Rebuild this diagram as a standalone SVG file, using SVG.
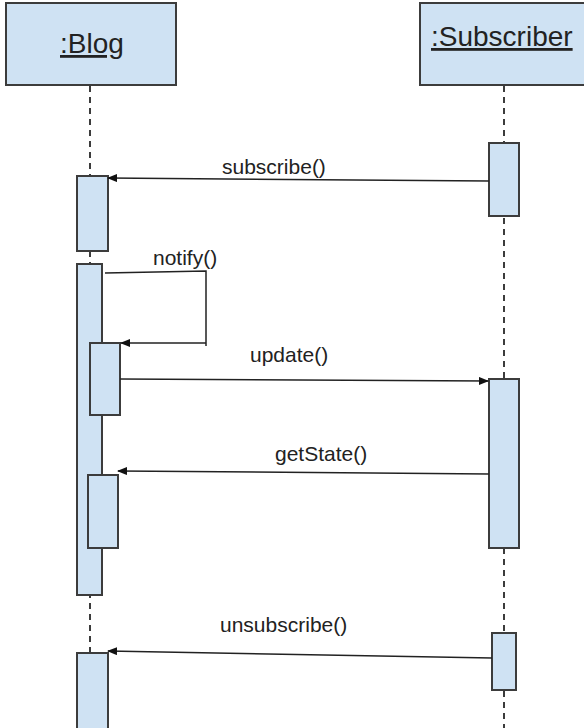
<svg xmlns="http://www.w3.org/2000/svg" width="584" height="728" viewBox="0 0 584 728">
<style>
.box{fill:#cfe2f3;stroke:#3c3c3c;stroke-width:2}
.act{fill:#cfe2f3;stroke:#3c3c3c;stroke-width:2}
.life{stroke:#3c3c3c;stroke-width:2;stroke-dasharray:6 5;fill:none}
.msg{stroke:#222;stroke-width:1.5;fill:none}
.title{font-family:"Liberation Sans",Arial,sans-serif;font-size:28px;fill:#222;text-decoration:underline}
.lbl{font-family:"Liberation Sans",Arial,sans-serif;font-size:21px;fill:#222}
</style>
<defs>
<marker id="ah" markerWidth="10" markerHeight="8" refX="9" refY="4" orient="auto" markerUnits="userSpaceOnUse">
<path d="M0,0 L10,4 L0,8 Z" fill="#111"/>
</marker>
</defs>
<g id="lifelines">
<line class="life" x1="90" y1="86" x2="90" y2="728"/>
<line class="life" x1="504" y1="86" x2="504" y2="728"/>
</g>
<g id="blog">
<rect class="box" x="6" y="3" width="170" height="82"/>
<text class="title" x="60" y="53">:Blog</text>
</g>
<g id="subscriber">
<rect class="box" x="420" y="3" width="170" height="82"/>
<text class="title" x="431" y="46">:Subscriber</text>
</g>
<g id="activations">
<rect class="act" x="489" y="143" width="30" height="73"/>
<rect class="act" x="77" y="176" width="31" height="75"/>
<rect class="act" x="77" y="264" width="25" height="331"/>
<rect class="act" x="90" y="343" width="30" height="72"/>
<rect class="act" x="489" y="379" width="30" height="169"/>
<rect class="act" x="88" y="475" width="30" height="73"/>
<rect class="act" x="492" y="633" width="24" height="57"/>
<rect class="act" x="77" y="653" width="31" height="80"/>
</g>
<g id="connectors">
<line class="msg" x1="489" y1="181" x2="108" y2="178" marker-end="url(#ah)"/>
<polyline class="msg" points="105,273 206,271 206,346"/>
<line class="msg" x1="206" y1="343" x2="121" y2="343" marker-end="url(#ah)"/>
<line class="msg" x1="120" y1="379" x2="488" y2="381" marker-end="url(#ah)"/>
<line class="msg" x1="489" y1="474" x2="118" y2="471" marker-end="url(#ah)"/>
<line class="msg" x1="492" y1="658" x2="108" y2="651" marker-end="url(#ah)"/>
</g>
<g id="labels">
<text class="lbl" x="222" y="174">subscribe()</text>
<text class="lbl" x="153" y="265">notify()</text>
<text class="lbl" x="250" y="362">update()</text>
<text class="lbl" x="275" y="461">getState()</text>
<text class="lbl" x="220" y="632">unsubscribe()</text>
</g>
</svg>
